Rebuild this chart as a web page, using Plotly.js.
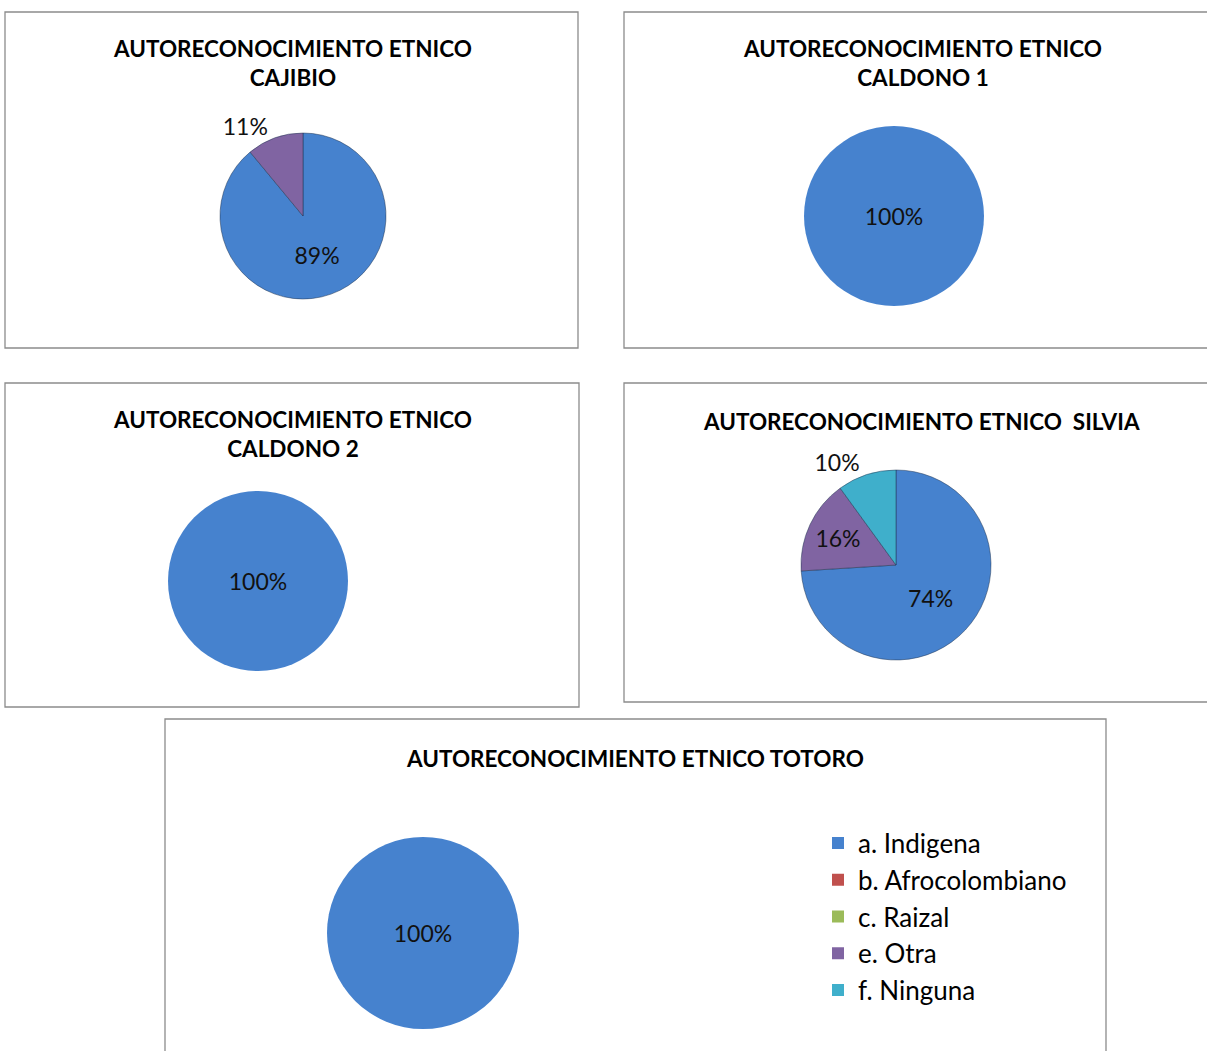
<!DOCTYPE html>
<html>
<head>
<meta charset="utf-8">
<script src="https://cdn.plot.ly/plotly-3.0.1.min.js"></script>
<style>
  html, body { margin: 0; padding: 0; background: #ffffff; }
  #chart { width: 1207px; height: 1051px; }
</style>
</head>
<body>
<div id="chart"></div>
<script>
// ---- data ----
const categories = ["a. Indigena", "b. Afrocolombiano", "c. Raizal", "e. Otra", "f. Ninguna"];
const colors = ["#4682CE", "#C0504D", "#9BBB59", "#8064A2", "#3FAFCB"];

const cajibio  = [89, 0, 0, 11, 0];
const caldono1 = [100, 0, 0, 0, 0];
const caldono2 = [100, 0, 0, 0, 0];
const silvia   = [74, 0, 0, 16, 10];
const totoro   = [100, 0, 0, 0, 0];

const titles = [
  "AUTORECONOCIMIENTO ETNICO<br>CAJIBIO",
  "AUTORECONOCIMIENTO ETNICO<br>CALDONO 1",
  "AUTORECONOCIMIENTO ETNICO<br>CALDONO 2",
  "AUTORECONOCIMIENTO ETNICO  SILVIA",
  "AUTORECONOCIMIENTO ETNICO TOTORO"
];

// ---- layout helpers ----
const W = 1207, H = 1051;
const FONT = "Lato, 'Open Sans', sans-serif";
const px = v => v / W;
const py = v => 1 - v / H;

function positions(vals) {
  const tot = vals.reduce((a, b) => a + b, 0);
  return vals.map(v => v === 0 ? "none" : (v / tot < 0.12 ? "outside" : "inside"));
}

function pieTrace(vals, box, showlegend) {
  const nonzero = vals.filter(v => v > 0).length;
  return {
    type: "pie",
    labels: categories,
    values: vals,
    sort: false,
    direction: "clockwise",
    rotation: 0,
    marker: {
      colors: colors,
      line: {
        color: "rgba(30,50,80,0.55)",
        width: vals.map(v => (v === 0 || nonzero < 2) ? 0 : 0.9)
      }
    },
    texttemplate: "%{percent:.0%}",
    textposition: positions(vals),
    textfont: { family: FONT, size: 23, color: "#111111" },
    insidetextorientation: "horizontal",
    showlegend: showlegend,
    hoverinfo: "label+percent",
    domain: { x: [px(box[0]), px(box[1])], y: [py(box[3]), py(box[2])] }
  };
}

const data = [
  pieTrace(cajibio,  [220, 386, 133, 299], false),
  pieTrace(caldono1, [804, 984, 126, 306], false),
  pieTrace(caldono2, [168, 348, 491, 671], false),
  pieTrace(silvia,   [801, 991, 470, 660], false),
  pieTrace(totoro,   [327, 519, 837, 1029], true)
];

const boxes = [
  [5, 578, 12, 348],
  [624, 1215, 12, 348],
  [5, 579, 383, 707],
  [624, 1215, 383, 702],
  [165, 1106, 719, 1060]
];

const shapes = boxes.map(b => ({
  type: "rect", xref: "paper", yref: "paper",
  x0: px(b[0]), x1: px(b[1]), y0: py(b[3]), y1: py(b[2]),
  line: { color: "#8c8c8c", width: 1.3 }, fillcolor: "rgba(0,0,0,0)"
}));

const titlePos = [[292, 33], [922, 33], [292, 404], [921, 421], [635, 758]];
const annotations = titles.map((t, i) => ({
  text: "<b>" + t + "</b>",
  xref: "paper", yref: "paper",
  x: px(titlePos[i][0]), y: py(titlePos[i][1]),
  xanchor: "center", yanchor: i === 3 || i === 4 ? "middle" : "top",
  showarrow: false, align: "center",
  font: { family: FONT, size: 22.5, color: "#000000" }
}));

const layout = {
  width: W, height: H,
  margin: { l: 0, r: 0, t: 0, b: 0 },
  paper_bgcolor: "#ffffff",
  showlegend: true,
  legend: {
    x: px(818), y: py(917), xanchor: "left", yanchor: "middle",
    font: { family: FONT, size: 26, color: "#000000" },
    traceorder: "normal",
    bgcolor: "rgba(0,0,0,0)"
  },
  shapes: shapes,
  annotations: annotations
};

Plotly.newPlot("chart", data, layout, { displayModeBar: false, staticPlot: true });
</script>
</body>
</html>
